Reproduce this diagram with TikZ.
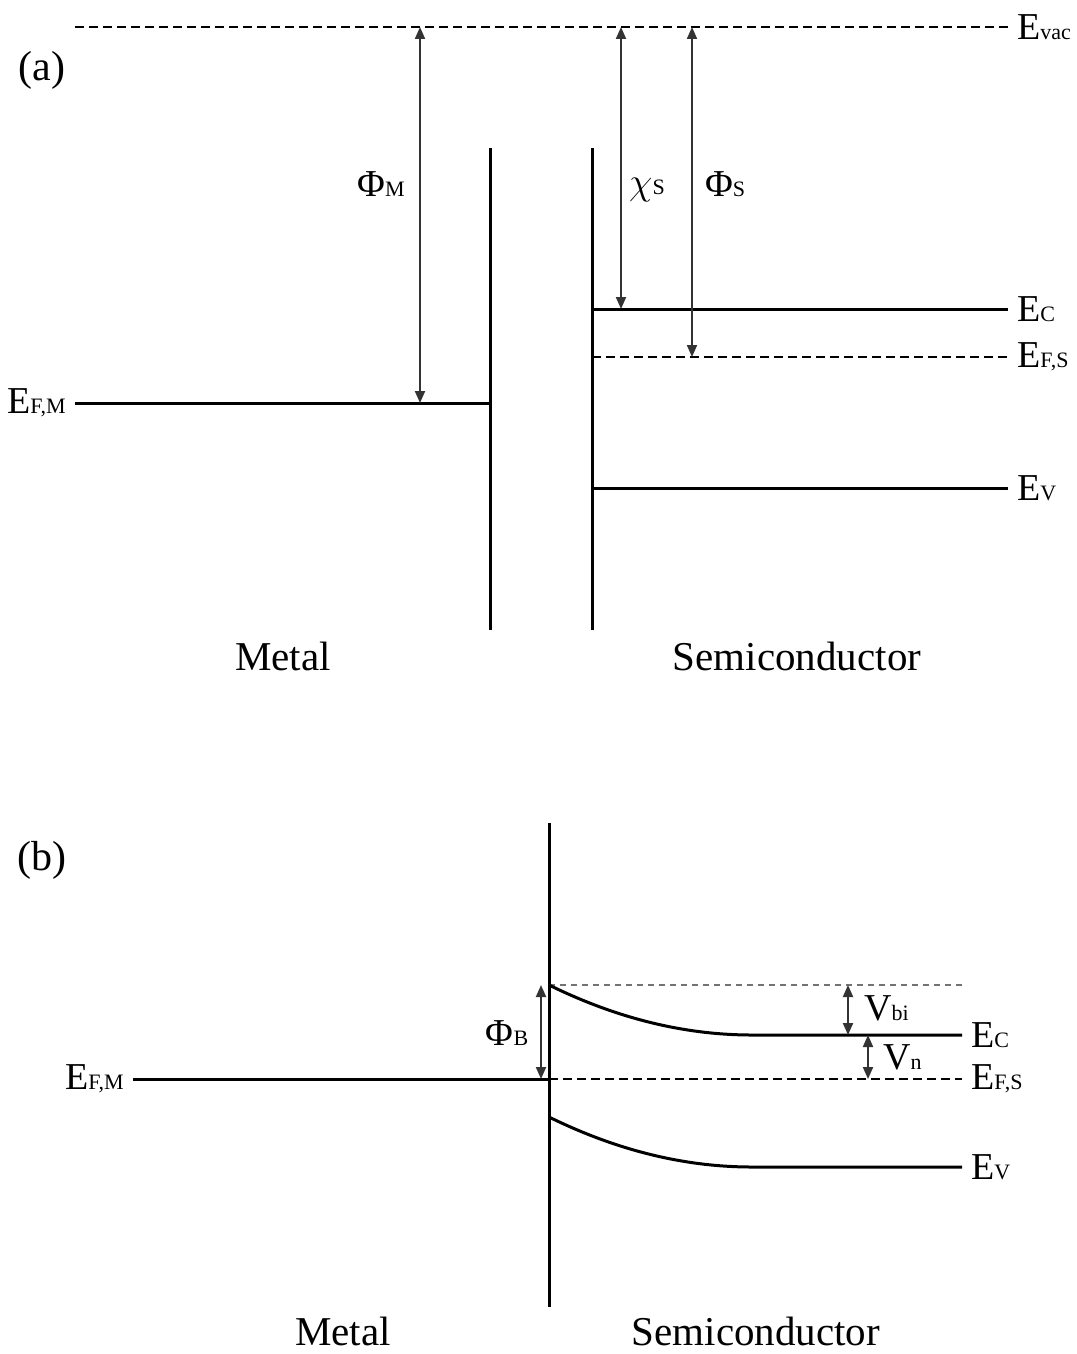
\RequirePackage{fix-cm}
\documentclass[tikz,border=0pt]{standalone}
\usepackage{fontspec}
\setmainfont{Liberation Serif}
\usetikzlibrary{arrows.meta}

\newcommand{\elev}[2]{#1{\fontsize{22}{22}\selectfont #2}}

\begin{document}
\begin{tikzpicture}[x=1pt,y=-1pt,
  lvl/.style={line width=3pt},
  fermi/.style={line width=2.6pt,dash pattern=on 9pt off 5pt},
  guide/.style={line width=1.8pt,black!55,dash pattern=on 6pt off 5pt},
  arr/.style={{Triangle[length=12pt,width=10pt]}-{Triangle[length=12pt,width=10pt]},line width=2pt,black!80},
  lbl/.style={anchor=west,inner xsep=9pt,inner ysep=0pt,font=\fontsize{38}{40}\selectfont},
  sym/.style={inner sep=0pt,font=\fontsize{38}{40}\selectfont},
  side/.style={font=\fontsize{41}{44}\selectfont},
  tag/.style={font=\fontsize{42}{44}\selectfont}
]
\useasboundingbox (0,0) rectangle (1076,1354);

% (a) before contact
\node[tag] (tagA) at (42,70) {(a)};
\coordinate (mtop) at (490,148);
\coordinate (mbot) at (490,630);
\coordinate (stop) at (592,148);
\coordinate (sbot) at (592,630);
\coordinate (vacL) at (75,27);
\draw[lvl] (mtop) -- (mbot);
\draw[lvl] (stop) -- (sbot);

\node[lbl] (evac) at (1008,27) {E\elev{}{vac}};
\node[lbl] (ecA) at (1008,309) {E\elev{}{C}};
\node[lbl] (efsA) at (1008,357) {E\elev{}{F,S}};
\node[lbl] (evA) at (1008,488) {E\elev{}{V}};
\node[lbl,anchor=east] (efmA) at (75,403) {E\elev{}{F,M}};

\draw[fermi] (vacL) -- (evac.west);
\draw[lvl] (ecA -| stop) -- (ecA.west);
\draw[fermi] (efsA -| stop) -- (efsA.west);
\draw[lvl] (evA -| stop) -- (evA.west);
\draw[lvl] (efmA.east) -- (efmA -| mtop);

\coordinate (phiM) at (420,0);
\coordinate (chiS) at (621,0);
\coordinate (phiS) at (692,0);
\draw[arr] (phiM |- efmA) -- (phiM |- vacL);
\draw[arr] (chiS |- ecA) -- (chiS |- vacL);
\draw[arr] (phiS |- efsA) -- (phiS |- vacL);
\node[sym] (phiMl) at (381,184) {Φ\elev{}{M}};
\node[sym,anchor=base west] (chiSl) at (629,194) {$\chi$\elev{}{S}};
\node[sym] (phiSl) at (725,184) {Φ\elev{}{S}};

\node[side] (metalA) at (283,656) {Metal};
\node[side] (semiA) at (797,656) {Semiconductor};

% (b) after contact
\node[tag] (tagB) at (42,860) {(b)};
\coordinate (itop) at (549,823);
\coordinate (ibot) at (549,1307);
\coordinate (ecK) at (752,1035);
\coordinate (evK) at (752,1167);
\coordinate (evS) at (549,1117);
\draw[lvl] (itop) -- (ibot);

\node[lbl] (topB) at (962,985) {};
\node[lbl] (ecB) at (962,1035) {E\elev{}{C}};
\node[lbl] (efsB) at (962,1079) {E\elev{}{F,S}};
\node[lbl] (evB) at (962,1167) {E\elev{}{V}};
\node[lbl,anchor=east] (efmB) at (133,1079) {E\elev{}{F,M}};

\draw[guide] (topB -| itop) -- (topB.west);
\draw[lvl] (topB -| itop) .. controls (616.7,1018.3) and (684.3,1035) .. (ecK) -- (ecB.west);
\draw[lvl] (evS) .. controls (616.7,1150.3) and (684.3,1167) .. (evK) -- (evB.west);
\draw[fermi] (efsB -| itop) -- (efsB.west);
\draw[lvl] (efmB.east) -- (efmB -| itop);

\coordinate (phiB) at (541,0);
\coordinate (vbi) at (848,0);
\coordinate (vn) at (868,0);
\draw[arr] (phiB |- topB) -- (phiB |- efmB);
\draw[arr] (vbi |- topB) -- (vbi |- ecK);
\draw[arr] (vn |- ecK) -- (vn |- efsB);
\node[sym] (phiBl) at (507,1033) {Φ\elev{}{B}};
\node[sym,anchor=west] (vbil) at (864,1008) {V\elev{}{bi}};
\node[sym,anchor=west] (vnl) at (883,1057) {V\elev{}{n}};

\node[side] (metalB) at (343,1331) {Metal};
\node[side] (semiB) at (756,1331) {Semiconductor};
\end{tikzpicture}
\end{document}
